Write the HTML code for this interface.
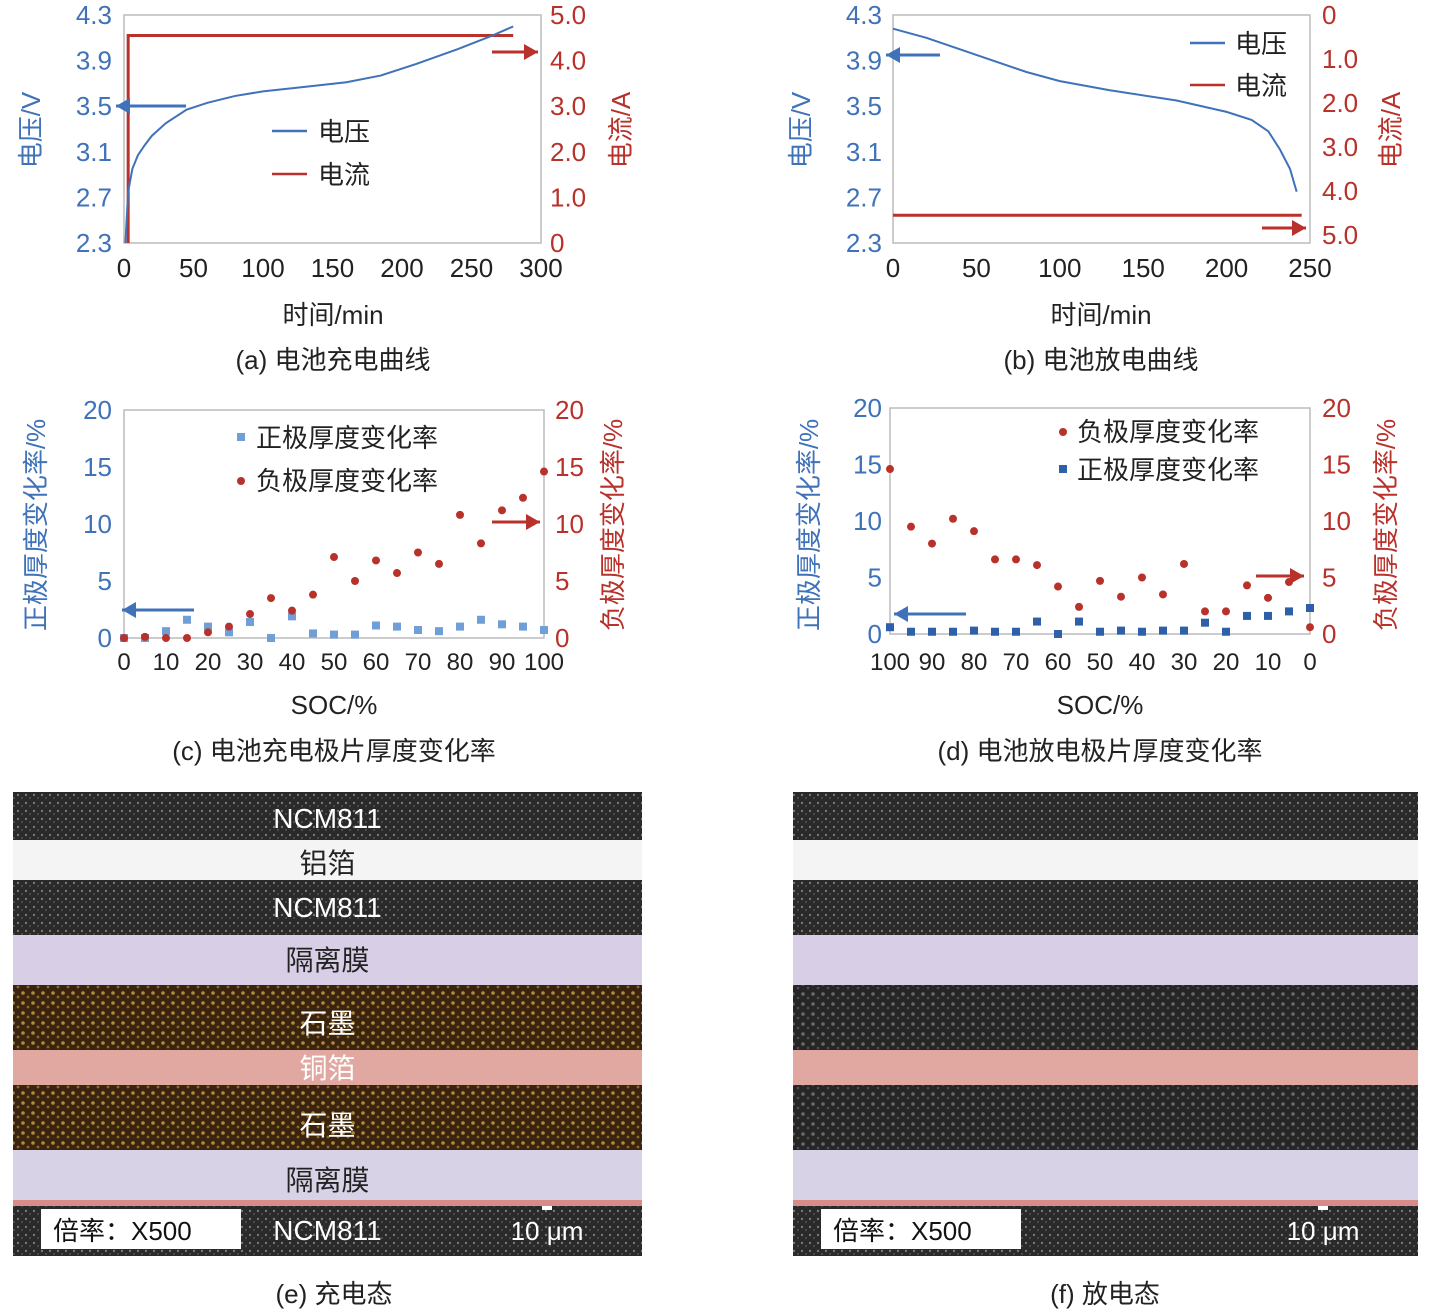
<!DOCTYPE html>
<html><head><meta charset="utf-8"><style>
body{margin:0;background:#fff}
svg{display:block;font-family:"Liberation Sans","Noto Sans CJK SC",sans-serif}
</style></head><body>
<svg id="s" width="1435" height="1312" viewBox="0 0 1435 1312">
<defs>
<pattern id="dk" width="8" height="8" patternUnits="userSpaceOnUse"><rect width="8" height="8" fill="#2a2a2a"/><circle cx="2" cy="3" r="1.2" fill="#777"/><circle cx="6" cy="6" r="1" fill="#555"/></pattern>
<pattern id="br" width="10" height="10" patternUnits="userSpaceOnUse"><rect width="10" height="10" fill="#3a2410"/><circle cx="3" cy="3" r="1.8" fill="#b08a3a"/><circle cx="8" cy="7" r="1.4" fill="#8a6a28"/></pattern>
<pattern id="gr" width="10" height="10" patternUnits="userSpaceOnUse"><rect width="10" height="10" fill="#262626"/><circle cx="3" cy="4" r="1.8" fill="#6a6a6a"/><circle cx="8" cy="8" r="1.3" fill="#505050"/></pattern>
</defs>
<g id="g"></g>
</svg>
<script>
// Panel a data
const aTime=[1,3,6,10,15,20,30,45,60,80,100,130,160,185,210,240,265,280];
const aVolt=[2.3,2.75,2.95,3.07,3.16,3.24,3.35,3.47,3.53,3.59,3.63,3.67,3.71,3.77,3.87,4.0,4.12,4.2];
const aCurT=[3,3,280];const aCurI=[0,4.55,4.55];
// Panel b data
const bTime=[0,20,50,80,100,130,170,200,215,225,232,238,242];
const bVolt=[4.18,4.1,3.95,3.8,3.72,3.64,3.55,3.45,3.38,3.28,3.12,2.95,2.75];
const bCurT=[0,245];const bCurI=[4.55,4.55];
// Panel c
const cSOC=[0,5,10,15,20,25,30,35,40,45,50,55,60,65,70,75,80,85,90,95,100];
const cPos=[0,0,0.6,1.6,1.0,0.5,1.4,0,1.9,0.4,0.3,0.3,1.1,1.0,0.7,0.6,1.0,1.6,1.2,1.0,0.7];
const cNeg=[0,0.1,0,0,0.5,1.0,2.1,3.5,2.4,3.8,7.1,5.0,6.8,5.7,7.5,6.5,10.8,8.3,11.2,12.3,14.6];
// Panel d
const dSOC=[100,95,90,85,80,75,70,65,60,55,50,45,40,35,30,25,20,15,10,5,0];
const dNeg=[14.6,9.5,8.0,10.2,9.1,6.6,6.6,6.1,4.2,2.4,4.7,3.3,5.0,3.5,6.2,2.0,2.0,4.3,3.2,4.6,0.6];
const dPos=[0.6,0.2,0.2,0.2,0.3,0.2,0.2,1.1,0,1.1,0.2,0.3,0.2,0.3,0.3,1.0,0.2,1.6,1.6,2.0,2.3];

const NS="http://www.w3.org/2000/svg",G=document.getElementById('g');
const B="#3f72b8",R="#b8312a";
function el(t,a,p){const e=document.createElementNS(NS,t);for(const k in a)e.setAttribute(k,a[k]);(p||G).appendChild(e);return e;}
function tx(x,y,s,o){const e=el('text',Object.assign({x:x,y:y,'font-size':26,'text-anchor':'middle',fill:'#222'},o||{}));e.textContent=s;return e;}
function lin(d0,d1,r0,r1){return v=>r0+(v-d0)/(d1-d0)*(r1-r0);}
function arrow(x1,x2,y,c){el('line',{x1:x1,y1:y,x2:x2,y2:y,stroke:c,'stroke-width':3});const d=x2>x1?-1:1;el('polygon',{points:`${x2},${y} ${x2+d*14},${y-8} ${x2+d*14},${y+8}`,fill:c});}
function frame(x0,x1,y0,y1){el('rect',{x:x0,y:y1,width:x1-x0,height:y0-y1,fill:'none',stroke:'#bbb','stroke-width':1.5});}

// ---- Panel a
{const X=lin(0,300,124,541),Y=lin(2.3,4.3,243,15),Y2=lin(0,5,243,15);
frame(124,541,243,15);
[2.3,2.7,3.1,3.5,3.9,4.3].forEach(v=>tx(112,Y(v)+9,v.toFixed(1),{fill:B,'text-anchor':'end'}));
['0','1.0','2.0','3.0','4.0','5.0'].forEach((s,i)=>tx(550,Y2(i)+9,s,{fill:R,'text-anchor':'start'}));
[0,50,100,150,200,250,300].forEach(v=>tx(X(v),277,v));
tx(333,324,'时间/min');tx(40,130,'电压/V',{fill:B,transform:'rotate(-90 40 130)'});
tx(630,130,'电流/A',{fill:R,transform:'rotate(-90 630 130)'});
const cp=el('polyline',{points:aCurT.map((t,i)=>X(t)+','+Y2(aCurI[i])).join(' '),fill:'none',stroke:R,'stroke-width':3});

const vp=el('polyline',{points:aTime.map((t,i)=>X(t)+','+Y(aVolt[i])).join(' '),fill:'none',stroke:B,'stroke-width':2});

arrow(186,116,106,B);arrow(492,538,52,R);
el('line',{x1:272,y1:131,x2:307,y2:131,stroke:B,'stroke-width':2.5});tx(318,141,'电压',{'text-anchor':'start'});
el('line',{x1:272,y1:174,x2:307,y2:174,stroke:R,'stroke-width':2.5});tx(318,184,'电流',{'text-anchor':'start'});
tx(333,369,'(a) 电池充电曲线');}

// ---- Panel b
{const X=lin(0,250,893,1310),Y=lin(2.3,4.3,243,15),Y2=lin(0,5,15,235);
frame(893,1310,243,15);
[2.3,2.7,3.1,3.5,3.9,4.3].forEach(v=>tx(882,Y(v)+9,v.toFixed(1),{fill:B,'text-anchor':'end'}));
['0','1.0','2.0','3.0','4.0','5.0'].forEach((s,i)=>tx(1322,Y2(i)+9,s,{fill:R,'text-anchor':'start'}));
[0,50,100,150,200,250].forEach(v=>tx(X(v),277,v));
tx(1101,324,'时间/min');tx(810,130,'电压/V',{fill:B,transform:'rotate(-90 810 130)'});
tx(1400,130,'电流/A',{fill:R,transform:'rotate(-90 1400 130)'});
const cp=el('polyline',{points:bCurT.map((t,i)=>X(t)+','+Y2(bCurI[i])).join(' '),fill:'none',stroke:R,'stroke-width':3});

const vp=el('polyline',{points:bTime.map((t,i)=>X(t)+','+Y(bVolt[i])).join(' '),fill:'none',stroke:B,'stroke-width':2});

arrow(940,886,55,B);arrow(1262,1306,228,R);
el('line',{x1:1190,y1:43,x2:1225,y2:43,stroke:B,'stroke-width':2.5});tx(1235,53,'电压',{'text-anchor':'start'});
el('line',{x1:1190,y1:85,x2:1225,y2:85,stroke:R,'stroke-width':2.5});tx(1235,95,'电流',{'text-anchor':'start'});
tx(1101,369,'(b) 电池放电曲线');}

function scatter(xs,ys,X,Y,c,sq,name){xs.forEach((v,i)=>{let e;if(sq)e=el('rect',{x:X(v)-4,y:Y(ys[i])-4,width:8,height:8,fill:c});else e=el('circle',{cx:X(v),cy:Y(ys[i]),r:4,fill:c});
});}

// ---- Panel c
{const X=lin(0,100,124,544),Y=lin(0,20,638,410);
frame(124,544,638,410);
[0,5,10,15,20].forEach(v=>{tx(112,Y(v)+9,v,{fill:B,'text-anchor':'end'});tx(555,Y(v)+9,v,{fill:R,'text-anchor':'start'});});
[0,10,20,30,40,50,60,70,80,90,100].forEach(v=>tx(X(v),670,v,{'font-size':24}));
tx(334,714,'SOC/%');tx(45,525,'正极厚度变化率/%',{fill:B,transform:'rotate(-90 45 525)'});
tx(622,525,'负极厚度变化率/%',{fill:R,transform:'rotate(-90 622 525)'});
scatter(cSOC,cPos,X,Y,'#6f9fd6',true,'positive-point-c');scatter(cSOC,cNeg,X,Y,R,false,'negative-point-c');
arrow(194,122,610,B);arrow(492,540,522,R);
el('rect',{x:237,y:433,width:8,height:8,fill:'#6f9fd6'});tx(256,447,'正极厚度变化率',{'text-anchor':'start'});
el('circle',{cx:241,cy:481,r:4,fill:R});tx(256,490,'负极厚度变化率',{'text-anchor':'start'});
tx(334,760,'(c) 电池充电极片厚度变化率');}

// ---- Panel d
{const X=lin(100,0,890,1310),Y=lin(0,20,634,408);
frame(890,1310,634,408);
[0,5,10,15,20].forEach(v=>{tx(882,Y(v)+9,v,{fill:B,'text-anchor':'end'});tx(1322,Y(v)+9,v,{fill:R,'text-anchor':'start'});});
[100,90,80,70,60,50,40,30,20,10,0].forEach(v=>tx(X(v),670,v,{'font-size':24}));
tx(1100,714,'SOC/%');tx(818,525,'正极厚度变化率/%',{fill:B,transform:'rotate(-90 818 525)'});
tx(1395,525,'负极厚度变化率/%',{fill:R,transform:'rotate(-90 1395 525)'});
scatter(dSOC,dNeg,X,Y,R,false,'negative-point-d');scatter(dSOC,dPos,X,Y,'#2f5fa8',true,'positive-point-d');
arrow(966,894,614,B);arrow(1256,1304,576,R);
el('circle',{cx:1063,cy:432,r:4,fill:R});tx(1077,441,'负极厚度变化率',{'text-anchor':'start'});
el('rect',{x:1059,y:465,width:8,height:8,fill:'#2f5fa8'});tx(1077,479,'正极厚度变化率',{'text-anchor':'start'});
tx(1100,760,'(d) 电池放电极片厚度变化率');}

// ---- Micrographs
function photo(x0,w,graph,labels,name){
const g=el('g',{});
const bands=[[792,48,'url(#dk)'],[840,40,'#f4f4f4'],[880,55,'url(#dk)'],[935,50,'#d8cfe6'],[985,65,graph],[1050,35,'#e0a8a0'],[1085,65,graph],[1150,50,'#d8d2e6'],[1200,6,'#d88c8a'],[1206,50,'url(#dk)']];
bands.forEach(b=>el('rect',{x:x0,y:b[0],width:w,height:b[1],fill:b[2]},g));
el('rect',{x:x0+28,y:1209,width:200,height:40,fill:'#fff'},g);
tx(x0+40,1240,'倍率：X500',{'text-anchor':'start','font-size':26,fill:'#111'});
const sx=x0+w-100;el('rect',{x:sx,y:1206,width:10,height:4,fill:'#fff'},g);
tx(sx+5,1240,'10 μm',{fill:'#fff'});
labels.forEach(l=>tx(x0+w/2,l[0],l[1],{fill:l[2]||'#fff','font-size':28}));}
photo(13,629,'url(#br)',[[828,'NCM811'],[873,'铝箔','#222'],[917,'NCM811'],[970,'隔离膜','#222'],[1033,'石墨'],[1078,'铜箔'],[1135,'石墨'],[1190,'隔离膜','#222'],[1240,'NCM811']],'charged-micrograph');
photo(793,625,'url(#gr)',[],'discharged-micrograph');
tx(334,1303,'(e) 充电态');tx(1105,1303,'(f) 放电态');
</script>
</body></html>
